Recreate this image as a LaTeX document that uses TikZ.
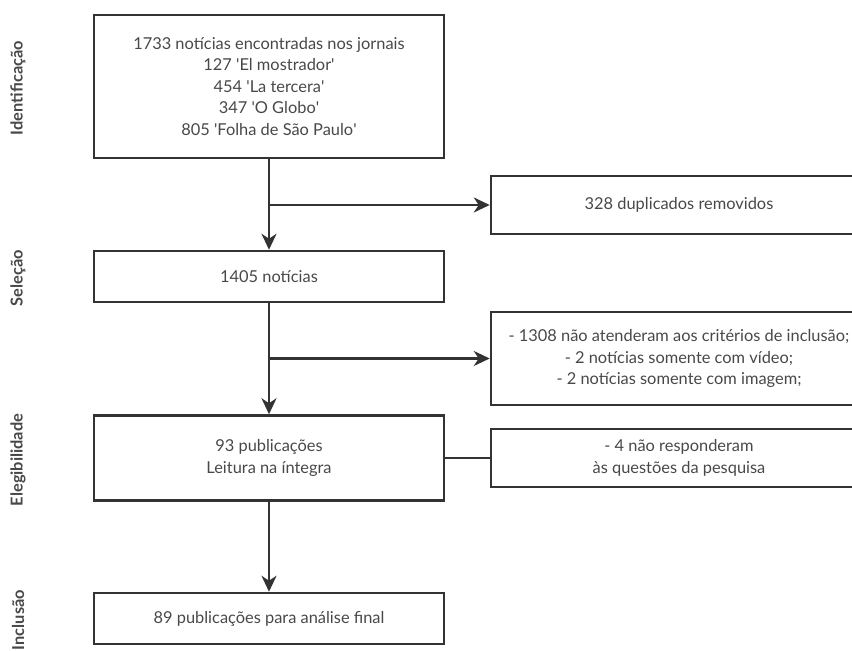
\documentclass[tikz,border=0pt]{standalone}
\usepackage{fontspec}
\setmainfont{Lato}[BoldFont={Lato Bold}]
\usetikzlibrary{arrows.meta}

\definecolor{linegray}{HTML}{333333}
\definecolor{textgray}{HTML}{484848}

\tikzset{
  box/.style={draw=linegray, line width=1.25pt, minimum width=175pt, align=center,
    text=textgray, font=\fontsize{8.2}{10.75}\selectfont, inner sep=0pt},
  sidebox/.style={box, minimum width=188pt},
  phase/.style={rotate=90, font=\bfseries\fontsize{8.2}{9}\selectfont, text=textgray},
  flow/.style={draw=linegray, line width=1.25pt, -{Stealth[length=8pt,width=7.5pt,inset=2.5pt]}},
  link/.style={draw=linegray, line width=1.25pt}
}
\newcommand{\q}{\textquotesingle}

\begin{document}
\begin{tikzpicture}[x=0.5pt, y=-0.5pt]
\useasboundingbox (0,0) rectangle (852,651);

% fases
\node [phase] (lident) at (18,88) {Identificação};
\node [phase] (lsel) at (18,278) {Seleção};
\node [phase] (leleg) at (18,460) {Elegibilidade};
\node [phase] (lincl) at (18,620) {Inclusão};

% coluna principal
\node [box, minimum height=71.5pt] (ident) at (269,86.5) {1733 notícias encontradas nos jornais\\
  127 \q El mostrador\q\\ 454 \q La tercera\q\\ 347 \q O Globo\q\\ 805 \q Folha de São Paulo\q};
\node [box, minimum height=25.5pt] (sel) at (269,276.5) {1405 notícias};
\node [box, minimum height=42.5pt] (eleg) at (269,458) {93 publicações\\ Leitura na íntegra};
\node [box, minimum height=25.5pt] (incl) at (269,618.5) {89 publicações para análise final};

% exclusões
\node [sidebox, minimum height=29pt] (dup) at (679,205) {328 duplicados removidos};
\node [sidebox, minimum height=46.5pt] (crit) at (679,358.5) {- 1308 não atenderam aos critérios de inclusão;\\
  - 2 notícias somente com vídeo;\\ - 2 notícias somente com imagem;};
\node [sidebox, minimum height=29pt] (quest) at (679,458) {- 4 não responderam\\ às questões da pesquisa};

\coordinate (br1) at (ident.south |- dup.west);
\coordinate (br2) at (sel.south |- crit.west);

\draw [flow] (ident) -- (sel);
\draw [flow] (sel) -- (eleg);
\draw [flow] (eleg) -- (incl);
\draw [flow] (br1) -- (dup);
\draw [flow] (br2) -- (crit);
\draw [link] (eleg) -- (quest);

\end{tikzpicture}
\end{document}
